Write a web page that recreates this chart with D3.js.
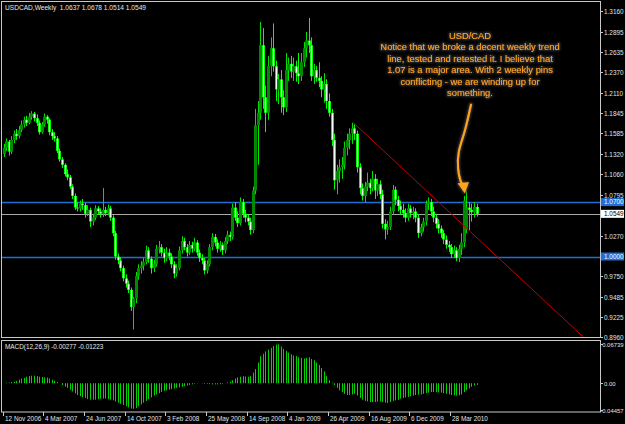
<!DOCTYPE html>
<html><head><meta charset="utf-8">
<script src="https://cdn.jsdelivr.net/npm/d3@7"></script>
<style>html,body{margin:0;padding:0;background:#000;}svg{display:block}</style>
</head><body><svg id="c" width="625" height="424"></svg>
<script>
const opens=[1.132,1.140,1.148,1.135,1.150,1.158,1.155,1.163,1.170,1.176,
1.172,1.180,1.184,1.178,1.172,1.160,1.170,1.180,1.176,1.160,
1.155,1.152,1.136,1.125,1.118,1.106,1.102,1.090,1.078,1.063,
1.062,1.068,1.066,1.055,1.060,1.045,1.050,1.062,1.058,1.055,
1.060,1.056,1.062,1.050,1.030,1.000,0.995,0.985,0.972,0.965,
0.957,0.935,0.946,0.975,0.985,0.988,0.993,1.008,0.997,0.985,
0.990,1.010,1.012,1.005,0.998,1.005,1.000,0.990,0.978,0.985,
1.008,1.020,1.012,1.005,1.015,1.010,1.018,1.005,0.998,0.995,
0.982,0.990,1.012,1.025,1.018,1.010,1.015,1.008,1.020,1.028,
1.025,1.063,1.050,1.043,1.070,1.055,1.050,1.045,1.034,1.085,
1.169,1.185,1.272,1.205,1.185,1.245,1.268,1.245,1.215,1.228,
1.205,1.192,1.240,1.248,1.238,1.245,1.236,1.232,1.250,1.268,
1.278,1.272,1.232,1.240,1.230,1.226,1.215,1.222,1.200,1.185,
1.150,1.098,1.110,1.115,1.118,1.140,1.150,1.158,1.165,1.158,
1.115,1.088,1.078,1.090,1.095,1.088,1.100,1.085,1.093,1.080,
1.042,1.035,1.038,1.058,1.086,1.073,1.065,1.060,1.056,1.050,
1.062,1.056,1.058,1.050,1.030,1.038,1.045,1.068,1.070,1.058,
1.050,1.042,1.036,1.030,1.022,1.015,1.012,1.003,1.008,0.998,
1.010,1.018,1.035,1.063,1.060,1.057,1.0637];
const highs=[1.145,1.152,1.150,1.155,1.162,1.164,1.168,1.175,1.180,1.181,
1.185,1.187,1.186,1.183,1.175,1.173,1.184,1.182,1.178,1.164,
1.160,1.155,1.139,1.128,1.120,1.112,1.105,1.093,1.081,1.070,
1.072,1.074,1.069,1.066,1.063,1.055,1.066,1.065,1.062,1.088,
1.064,1.067,1.065,1.053,1.033,1.004,0.999,0.988,0.977,0.969,
0.960,0.948,0.980,0.990,0.994,0.998,1.014,1.012,1.000,0.996,
1.015,1.020,1.016,1.010,1.012,1.010,1.004,0.994,0.990,1.013,
1.026,1.024,1.016,1.020,1.019,1.024,1.021,1.009,1.003,0.998,
0.995,1.016,1.030,1.029,1.022,1.020,1.018,1.025,1.033,1.032,
1.068,1.070,1.058,1.076,1.074,1.060,1.054,1.050,1.090,1.190,
1.200,1.302,1.294,1.220,1.258,1.282,1.300,1.252,1.235,1.240,
1.214,1.262,1.256,1.258,1.256,1.252,1.262,1.262,1.276,1.289,
1.307,1.282,1.248,1.245,1.250,1.232,1.236,1.228,1.210,1.190,
1.158,1.118,1.125,1.128,1.148,1.158,1.165,1.172,1.170,1.162,
1.120,1.094,1.096,1.108,1.100,1.110,1.106,1.100,1.098,1.086,
1.048,1.046,1.064,1.092,1.090,1.078,1.072,1.068,1.062,1.068,
1.066,1.064,1.062,1.054,1.042,1.050,1.072,1.076,1.074,1.064,
1.054,1.048,1.040,1.034,1.027,1.020,1.016,1.014,1.012,1.015,
1.030,1.078,1.085,1.070,1.068,1.070,1.0678];
const lows=[1.128,1.136,1.130,1.132,1.146,1.150,1.152,1.160,1.166,1.168,
1.170,1.176,1.174,1.168,1.157,1.158,1.167,1.171,1.156,1.150,
1.148,1.133,1.122,1.114,1.103,1.098,1.087,1.074,1.060,1.058,
1.058,1.060,1.050,1.052,1.038,1.040,1.047,1.054,1.050,1.051,
1.052,1.053,1.046,1.026,0.996,0.990,0.981,0.968,0.960,0.953,
0.930,0.906,0.940,0.970,0.978,0.982,0.990,0.992,0.978,0.980,
0.987,1.004,1.000,0.992,0.994,0.995,0.985,0.972,0.974,0.982,
1.004,1.008,1.000,1.002,1.005,1.007,1.001,0.993,0.990,0.977,
0.978,0.987,1.008,1.013,1.005,1.006,1.002,1.004,1.016,1.020,
1.022,1.046,1.038,1.040,1.050,1.044,1.040,1.028,1.030,1.080,
1.118,1.176,1.190,1.160,1.176,1.232,1.238,1.200,1.196,1.185,
1.182,1.186,1.226,1.230,1.226,1.225,1.222,1.226,1.244,1.256,
1.262,1.226,1.222,1.225,1.218,1.205,1.198,1.190,1.180,1.142,
1.086,1.080,1.095,1.100,1.112,1.130,1.138,1.145,1.150,1.108,
1.080,1.072,1.070,1.084,1.080,1.084,1.074,1.078,1.074,1.036,
1.022,1.028,1.034,1.054,1.066,1.058,1.054,1.050,1.044,1.046,
1.050,1.048,1.044,1.024,1.026,1.032,1.040,1.060,1.052,1.044,
1.036,1.030,1.024,1.016,1.010,1.006,0.998,0.998,0.994,0.993,
1.002,1.012,1.030,1.034,1.045,1.050,1.0514];
const closes=[1.140,1.148,1.135,1.150,1.158,1.155,1.163,1.170,1.176,1.172,
1.180,1.184,1.178,1.172,1.160,1.170,1.180,1.176,1.160,1.155,
1.152,1.136,1.125,1.118,1.106,1.102,1.090,1.078,1.063,1.062,
1.068,1.066,1.055,1.060,1.045,1.050,1.062,1.058,1.055,1.060,
1.056,1.062,1.050,1.030,1.000,0.995,0.985,0.972,0.965,0.957,
0.935,0.946,0.975,0.985,0.988,0.993,1.008,0.997,0.985,0.990,
1.010,1.012,1.005,0.998,1.005,1.000,0.990,0.978,0.985,1.008,
1.020,1.012,1.005,1.015,1.010,1.018,1.005,0.998,0.995,0.982,
0.990,1.012,1.025,1.018,1.010,1.015,1.008,1.020,1.028,1.025,
1.063,1.050,1.043,1.070,1.055,1.050,1.045,1.034,1.085,1.169,
1.185,1.272,1.205,1.185,1.245,1.268,1.245,1.215,1.228,1.205,
1.192,1.240,1.248,1.238,1.245,1.236,1.232,1.250,1.268,1.278,
1.272,1.232,1.240,1.230,1.226,1.215,1.222,1.200,1.185,1.150,
1.098,1.110,1.115,1.118,1.140,1.150,1.158,1.165,1.158,1.115,
1.088,1.078,1.090,1.095,1.088,1.100,1.085,1.093,1.080,1.042,
1.035,1.038,1.058,1.086,1.073,1.065,1.060,1.056,1.050,1.062,
1.056,1.058,1.050,1.030,1.038,1.045,1.068,1.070,1.058,1.050,
1.042,1.036,1.030,1.022,1.015,1.012,1.003,1.008,0.998,1.010,
1.018,1.072,1.063,1.060,1.057,1.0637,1.0549];
const macd=[0.000,0.001,0.001,0.002,0.0025,0.004,0.006,0.008,0.009,0.011,
0.012,0.0128,0.013,0.012,0.011,0.0105,0.010,0.0095,0.008,0.006,
0.004,0.002,0.000,-0.003,-0.006,-0.008,-0.011,-0.014,-0.017,-0.020,
-0.022,-0.024,-0.025,-0.027,-0.028,-0.028,-0.028,-0.027,-0.026,-0.026,
-0.026,-0.027,-0.028,-0.029,-0.031,-0.033,-0.035,-0.037,-0.039,-0.041,
-0.043,-0.0434,-0.042,-0.039,-0.036,-0.033,-0.030,-0.027,-0.024,-0.021,
-0.019,-0.017,-0.015,-0.013,-0.012,-0.011,-0.010,-0.009,-0.008,-0.007,
-0.006,-0.005,-0.004,-0.003,-0.002,-0.001,-0.0005,0.000,-0.0005,-0.001,
-0.001,-0.0015,-0.002,-0.002,-0.002,-0.0015,-0.001,0.000,0.001,0.0025,
0.005,0.008,0.010,0.011,0.012,0.0115,0.011,0.012,0.018,0.024,
0.035,0.046,0.050,0.054,0.057,0.060,0.063,0.0656,0.066,0.062,
0.058,0.055,0.052,0.049,0.047,0.046,0.044,0.043,0.042,0.043,
0.044,0.041,0.039,0.035,0.031,0.026,0.020,0.012,0.005,0.001,
-0.003,-0.008,-0.012,-0.015,-0.018,-0.020,-0.020,-0.019,-0.018,-0.021,
-0.025,-0.028,-0.030,-0.031,-0.032,-0.032,-0.032,-0.031,-0.031,-0.032,
-0.033,-0.0333,-0.032,-0.030,-0.029,-0.028,-0.026,-0.025,-0.024,-0.023,
-0.022,-0.021,-0.020,-0.0195,-0.019,-0.018,-0.0165,-0.016,-0.015,-0.0148,
-0.015,-0.0155,-0.016,-0.017,-0.018,-0.019,-0.020,-0.0205,-0.021,-0.0205,
-0.019,-0.015,-0.012,-0.009,-0.006,-0.004,-0.0028];
const dateTickIdx=[0,16,32,48,64,80,96,112,128,144,160,176];
const dateTickLabels=["12 Nov 2006","4 Mar 2007","24 Jun 2007","14 Oct 2007","3 Feb 2008","25 May 2008","14 Sep 2008","4 Jan 2009","26 Apr 2009","16 Aug 2009","6 Dec 2009","28 Mar 2010"];
const priceTicks=[1.3160,1.2895,1.2635,1.2370,1.2110,1.1845,1.1585,1.1320,1.1060,1.0795,1.0270,0.9750,0.9485,0.9225,0.8960];
const hLevels=[1.0700,1.0000];
const lastPrice=1.0549;
const macdTicks=[0.06739,0,-0.04457];
const macdTickLabels=["0.06739","0.00","-0.04457"];
const trendIdx=[137.5,228];
const trendPrice=[1.1725,0.8964];
const titleText="USDCAD,Weekly  1.0637 1.0678 1.0514 1.0549";
const macdTitle="MACD(12,26,9) -0.00277 -0.01223";
const noteLines=["USD/CAD","Notice that we broke a decent weekly trend","line, tested and retested it. I believe that","1.07 is a major area. With 2 weekly pins","conflicting - we are winding up for","something."];
// arrow path in data coords [barIndex, price]
const arrowIdx=[183.9,181.5,178.6,178.6,179.6,180.6];
const arrowPrice=[1.1965,1.160,1.135,1.112,1.097,1.092];

const svg=d3.select("#c");
const W=625,H=424;
const L=2,R=600,T=2,B=337.5,MT=340.5,MB=412;
const FONT="'Liberation Sans', Arial, sans-serif";
svg.append("rect").attr("width",W).attr("height",H).attr("fill","#000");

const x=d3.scaleLinear().domain([0,186]).range([3.5,476.5]);
const y=d3.scaleLinear().domain([0.8960,1.3160]).range([337.3,11]);
const ym=d3.scaleLinear().domain([-0.04457,0.06739]).range([409.5,343.5]);

svg.append("defs").append("clipPath").attr("id","clipMain").append("rect").attr("x",L).attr("y",T).attr("width",R-L).attr("height",B-T);
const defs=svg.select("defs");
const glow=defs.append("filter").attr("id","glow").attr("x","-20%").attr("y","-20%").attr("width","140%").attr("height","140%");
glow.append("feMorphology").attr("in","SourceAlpha").attr("operator","dilate").attr("radius",1.2).attr("result","d");
glow.append("feGaussianBlur").attr("in","d").attr("stdDeviation",1.2).attr("result","b");
glow.append("feFlood").attr("flood-color","#3a3a3a").attr("result","f");
glow.append("feComposite").attr("in","f").attr("in2","b").attr("operator","in").attr("result","s");
const mg=glow.append("feMerge");mg.append("feMergeNode").attr("in","s");mg.append("feMergeNode").attr("in","SourceGraphic");

const main=svg.append("g").attr("clip-path","url(#clipMain)");

// horizontal levels
main.selectAll("line.lvl").data(hLevels).enter().append("line")
 .attr("x1",L).attr("x2",R).attr("y1",d=>Math.round(y(d))+0.5).attr("y2",d=>Math.round(y(d))+0.5)
 .attr("stroke","#1f6fd6").attr("stroke-width",1.3);
main.append("line").attr("x1",L).attr("x2",R).attr("y1",Math.round(y(lastPrice))+0.5).attr("y2",Math.round(y(lastPrice))+0.5)
 .attr("stroke","#a8a8a8").attr("stroke-width",1);

// candles
const idx=d3.range(closes.length);
const cg=main.append("g");
idx.forEach(i=>{
  const cx=Math.round(x(i));
  const bull=closes[i]>=opens[i];
  cg.append("line").attr("x1",cx+0.5).attr("x2",cx+0.5).attr("y1",y(highs[i])).attr("y2",y(lows[i]))
    .attr("stroke",bull?"#00e000":"#00ff00").attr("stroke-width",1);
  const top=y(Math.max(opens[i],closes[i])),bot=y(Math.min(opens[i],closes[i]));
  const h=Math.max(1,bot-top);
  if(bull){
    cg.append("rect").attr("x",cx-1).attr("y",top).attr("width",3).attr("height",h).attr("fill","#008a00");
  } else {
    cg.append("rect").attr("x",cx-1).attr("y",top).attr("width",3).attr("height",h).attr("fill","#00ff00");
    cg.append("rect").attr("x",cx).attr("y",top+0.5).attr("width",1).attr("height",Math.max(0,h-1)).attr("fill","#f0fff0");
  }
});

// trend line
main.append("line").attr("x1",x(trendIdx[0])).attr("y1",y(trendPrice[0])).attr("x2",x(trendIdx[1])).attr("y2",y(trendPrice[1]))
 .attr("stroke","#c00000").attr("stroke-width",1);

// frames
const frame=svg.append("g").attr("fill","none").attr("stroke","#c8c8c8").attr("stroke-width",1);
frame.append("rect").attr("x",1.5).attr("y",1.5).attr("width",R-1).attr("height",B-1.5);
frame.append("rect").attr("x",1.5).attr("y",MT).attr("width",R-1).attr("height",MB-MT);

// price axis
const ax=svg.append("g").attr("font-family",FONT).attr("font-size","6.4px").attr("fill","#e0e0e0");
priceTicks.forEach(p=>{
  const yy=Math.round(y(p))+0.5;
  svg.append("line").attr("x1",R+0.5).attr("x2",R+3).attr("y1",yy).attr("y2",yy).attr("stroke","#c8c8c8");
  ax.append("text").attr("x",R+4).attr("y",yy+2.3).text(p.toFixed(4));
});
hLevels.forEach(p=>{
  const yy=y(p);
  svg.append("rect").attr("x",R+1).attr("y",yy-4).attr("width",23).attr("height",8).attr("fill","#1f6fd6");
  svg.append("text").attr("x",R+4).attr("y",yy+2.3).attr("font-family",FONT).attr("font-size","6.4px").attr("fill","#ffffff").text(p.toFixed(4));
});
{
  const yy=y(lastPrice);
  svg.append("rect").attr("x",R+1).attr("y",yy-4).attr("width",23).attr("height",8).attr("fill","#ffffff");
  svg.append("text").attr("x",R+4).attr("y",yy+2.3).attr("font-family",FONT).attr("font-size","6.4px").attr("fill","#000").text(lastPrice.toFixed(4));
}

// title
svg.append("text").attr("x",5).attr("y",9.5).attr("font-family",FONT).attr("font-size","6.6px").attr("fill","#e8e8e8").attr("xml:space","preserve").text(titleText);

// MACD histogram
const mgp=svg.append("g");
idx.forEach(i=>{
  const cx=Math.round(x(i))+0.5;
  mgp.append("line").attr("x1",cx).attr("x2",cx).attr("y1",ym(0)).attr("y2",ym(macd[i])).attr("stroke","#00d400").attr("stroke-width",1);
});
svg.append("text").attr("x",5).attr("y",349).attr("font-family",FONT).attr("font-size","6.4px").attr("fill","#e8e8e8").text(macdTitle);
macdTicks.forEach((v,k)=>{
  const yy=Math.round(ym(v))+0.5;
  svg.append("line").attr("x1",R+0.5).attr("x2",R+3).attr("y1",yy).attr("y2",yy).attr("stroke","#c8c8c8");
  svg.append("text").attr("x",k===1?R+4:623.5).attr("y",yy+2.2).attr("text-anchor",k===1?"start":"end")
    .attr("font-family",FONT).attr("font-size","5.9px").attr("fill","#e0e0e0").text(macdTickLabels[k]);
});

// date axis
dateTickIdx.forEach((d,k)=>{
  const xx=Math.round(x(d))-0.5;
  svg.append("line").attr("x1",xx).attr("x2",xx).attr("y1",MB).attr("y2",MB+4).attr("stroke","#c8c8c8");
  ax.append("text").attr("x",xx+1.5).attr("y",421).text(dateTickLabels[k]);
});

// annotation
const note=svg.append("g").attr("filter","url(#glow)");
note.selectAll("text").data(noteLines).enter().append("text")
 .attr("x",470).attr("y",(d,k)=>38.5+k*11.5).attr("text-anchor","middle")
 .attr("font-family",FONT).attr("font-size","9.4px").attr("fill","#ffa31a").text(d=>d);
const apts=arrowIdx.map((v,k)=>[x(v),y(arrowPrice[k])]);
note.append("path").attr("d",d3.line().curve(d3.curveBasis)(apts)).attr("fill","none").attr("stroke","#ffa31a").attr("stroke-width",2);
const tip=[x(181.4),y(1.0815)];
note.append("path").attr("d",`M${tip[0]-7},${tip[1]-10}L${tip[0]+4},${tip[1]-11}L${tip[0]},${tip[1]}Z`).attr("fill","#ffa31a");
</script></body></html>
